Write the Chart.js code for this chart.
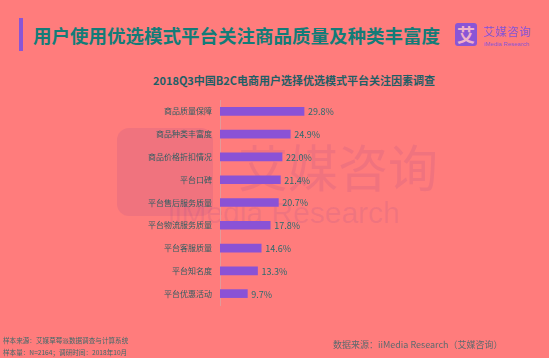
<!DOCTYPE html>
<html><head><meta charset="utf-8">
<script src="https://cdn.jsdelivr.net/npm/chart.js@4/dist/chart.umd.min.js"></script>
<style>
html,body{margin:0;padding:0;}
body{width:549px;height:358px;background:#ff7c7c;position:relative;overflow:hidden;font-family:"Noto Sans CJK SC","Noto Sans",sans-serif;}
.abs{position:absolute;white-space:nowrap;}
#wrap{position:absolute;left:0;top:0;width:549px;height:358px;z-index:2;}
</style></head><body>
<div class="abs" style="left:19px;top:18px;width:4px;height:33px;background:#8a55d6;"></div>
<div class="abs" style="left:33px;top:23px;font-size:18.5px;font-weight:bold;color:#137c78;line-height:24px;">用户使用优选模式平台关注商品质量及种类丰富度</div>
<div class="abs" style="left:455px;top:23px;width:22px;height:23px;background:#8a55d6;border-radius:3px;color:#f0b0c8;font-size:18px;font-weight:bold;text-align:center;line-height:23px;">艾</div>
<div class="abs" style="left:483px;top:24px;font-size:11.5px;color:#8a55d6;line-height:14px;letter-spacing:0.5px;">艾媒咨询</div>
<div class="abs" style="left:484px;top:40px;font-size:6px;color:#8a55d6;line-height:8px;font-family:'Liberation Sans',sans-serif;">iMedia Research</div>
<div class="abs" style="left:0;width:588px;top:73px;text-align:center;font-size:11px;font-weight:bold;color:#1f5f66;line-height:14px;">2018Q3中国B2C电商用户选择优选模式平台关注因素调查</div>
<!-- watermark -->
<div class="abs" style="left:117px;top:128px;width:96px;height:88px;border-radius:12px;background:rgba(130,60,150,0.12);z-index:1;"></div>
<div class="abs" style="left:238px;top:135px;font-size:50px;line-height:60px;color:rgba(130,60,150,0.12);z-index:1;">艾媒咨询</div>
<div class="abs" style="left:168px;top:196px;font-size:30px;line-height:34px;color:rgba(130,60,150,0.12);z-index:1;font-family:'Liberation Sans',sans-serif;">iiMedia Research</div>
<div id="wrap"><canvas id="c" width="549" height="358"></canvas></div>
<div class="abs" style="left:3px;top:336px;font-size:6.6px;color:#3f6a6a;line-height:9px;z-index:3;">样本来源：艾媒草莓派数据调查与计算系统</div>
<div class="abs" style="left:3px;top:348px;font-size:6.6px;color:#3f6a6a;line-height:9px;z-index:3;">样本量：N=2164；调研时间：2018年10月</div>
<div class="abs" style="left:333px;top:338px;font-size:9px;color:#5d6a6e;line-height:13px;z-index:3;">数据来源：iiMedia Research（艾媒咨询）</div>
<script>
const categories = ["商品质量保障","商品种类丰富度","商品价格折扣情况","平台口碑","平台售后服务质量","平台物流服务质量","平台客服质量","平台知名度","平台优惠活动"];
const values = [29.8, 24.9, 22.0, 21.4, 20.7, 17.8, 14.6, 13.3, 9.7];
const valueLabels = values.map(v => v.toFixed(1) + "%");

const labelPlugin = {
  id: 'valLabels',
  afterDatasetsDraw(chart) {
    const ctx = chart.ctx;
    const meta = chart.getDatasetMeta(0);
    ctx.save();
    ctx.font = '9px "Noto Sans CJK SC", sans-serif';
    ctx.fillStyle = '#2a6b6e';
    ctx.textAlign = 'left';
    ctx.textBaseline = 'middle';
    meta.data.forEach((bar, i) => {
      ctx.fillText(valueLabels[i], bar.x + 4, bar.y + 0.5);
    });
    ctx.restore();
  }
};

new Chart(document.getElementById('c'), {
  type: 'bar',
  data: {
    labels: categories,
    datasets: [{ data: values, backgroundColor: '#8a52d6', barThickness: 8 }]
  },
  options: {
    indexAxis: 'y',
    responsive: false,
    animation: false,
    devicePixelRatio: 1,
    layout: { padding: { top: 100, bottom: 53, right: 47, left: 0 } },
    plugins: { legend: { display: false }, tooltip: { enabled: false }, title: { display: false } },
    scales: {
      x: { display: false, min: 0, max: 100 },
      y: {
        afterFit(scale) { scale.width = 220; },
        grid: { display: false, drawTicks: false },
        border: { display: true, color: '#e39a9a', width: 1 },
        ticks: { padding: 8, color: '#2d5e62', font: { size: 8, family: '"Noto Sans CJK SC", sans-serif' } }
      }
    }
  },
  plugins: [labelPlugin]
});
</script>
</body></html>
